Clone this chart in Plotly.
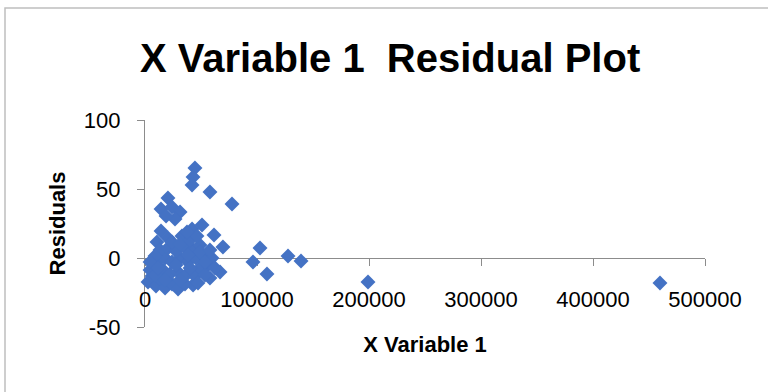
import plotly.graph_objects as go

# Residuals against the first explanatory variable
x_variable_1 = [
    20500, 14300, 24100, 31300, 26800, 18800, 14300, 20500, 10700, 33000, 42000,
    44600, 42900, 42000, 58000, 77700, 50900, 61600, 69600, 102700, 96400, 108900,
    127700, 139300, 199100, 459800, 67000, 56300, 58000, 42900,
    2700, 6300, 4500, 9800, 14300, 17900, 24100, 29500, 35700, 16100, 22300, 29500,
    36600, 44600, 49100, 10700, 17900, 24100, 31300, 38400, 45500, 52700, 13400,
    20500, 27700, 35700, 42900, 49100, 24100, 31300, 40200, 46400, 37500, 8900,
    4500, 59800, 62500,
    40200, 53600, 47300, 8900, 31300, 49100, 58000, 38400, 27700, 17900, 11600,
    53600,
]
residuals = [
    43.5, 35.5, 37.0, 33.3, 28.3, 30.4, 19.6, 14.5, 11.6, 16.0, 21.0,
    65.2, 58.7, 52.9, 47.8, 39.1, 23.9, 16.7, 8.0, 7.2, -2.9, -11.6,
    1.4, -2.2, -17.4, -18.1, -10.1, -5.1, -14.5, -19.6,
    -17.4, -13.0, -8.7, -20.3, -16.0, -21.7, -18.8, -22.5, -18.8, -8.7, -11.6, -10.1,
    -12.3, -13.0, -7.2, -2.9, 0.0, -2.9, 0.0, -2.9, 0.0, 1.4, 5.8,
    7.2, 5.1, 7.2, 5.8, 9.4, 11.6, 10.1, 13.0, 16.0, 18.8, 1.4,
    -2.9, 0.0, -7.2,
    -7.2, -12.3, -18.1, -12.3, -15.9, 4.3, 5.8, 2.2, -5.1, -15.9, -7.2,
    -2.9,
]

x_ticks = [0, 100000, 200000, 300000, 400000, 500000]
y_ticks = [-50, 0, 50, 100]
y_tick_text = ["-50", "0", "50", "100"]

AXIS_GREY = "#8C8C8C"
FONT = "Liberation Sans"

fig = go.Figure()
fig.add_trace(go.Scatter(
    x=x_variable_1,
    y=residuals,
    mode="markers",
    marker=dict(symbol="diamond", size=11.5, color="#4472C4", line=dict(width=0)),
    cliponaxis=False,
    showlegend=False,
))

# Chart frame
fig.add_shape(
    type="rect", xref="paper", yref="paper",
    x0=-0.25, x1=1.2, y0=-0.4, y1=1.541,
    line=dict(color="#BFBFBF", width=1.5), fillcolor="rgba(0,0,0,0)", layer="below",
)

fig.update_layout(
    width=768, height=392,
    margin=dict(l=145, r=63, t=120, b=65),
    paper_bgcolor="white", plot_bgcolor="white",
    font=dict(family=FONT, color="black"),
    title=dict(
        text="<b>X Variable 1\u00a0 Residual Plot</b>",
        font=dict(family=FONT, size=40, color="black"),
        x=0.508, xref="container", xanchor="center",
        y=1 - 58 / 392, yref="container", yanchor="middle",
    ),
    xaxis=dict(
        range=[0, 500000], tickvals=x_ticks, ticktext=[str(v) for v in x_ticks],
        anchor="free", position=69 / 207,
        showline=True, linecolor=AXIS_GREY, linewidth=1.3,
        ticks="outside", ticklen=7, tickcolor=AXIS_GREY, tickwidth=1.3,
        ticklabelstandoff=14,
        tickfont=dict(size=22),
        showgrid=False, zeroline=False, layer="below traces",
        title=dict(text="<b>X Variable 1</b>", font=dict(size=22), standoff=26),
    ),
    yaxis=dict(
        range=[-50, 100], tickvals=y_ticks, ticktext=y_tick_text,
        showline=True, linecolor=AXIS_GREY, linewidth=1.3,
        ticks="outside", ticklen=7, tickcolor=AXIS_GREY, tickwidth=1.3,
        ticklabelstandoff=12,
        tickfont=dict(size=22),
        showgrid=False, zeroline=False, layer="below traces",
        title=dict(text="<b>Residuals</b>", font=dict(size=22), standoff=12),
    ),
)

fig.write_html("out.html")
